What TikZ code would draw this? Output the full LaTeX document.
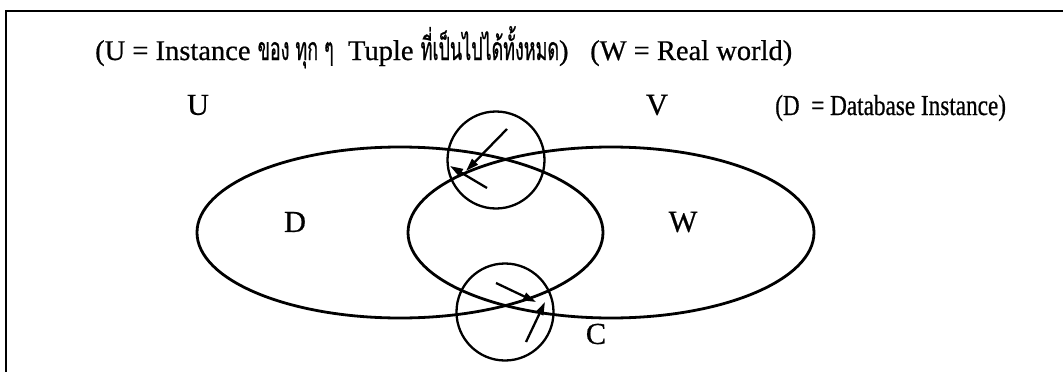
\documentclass[tikz,border=0pt]{standalone}
\usepackage{fontspec}
\setmainfont[FakeBold=0.6]{Liberation Serif}
\newfontfamily\hdrfont[FakeBold=0.6]{Liberation Serif}
\newfontfamily\narrowfont[FakeStretch=0.8,FakeBold=0.6]{Liberation Serif}
\newfontfamily\thaifont[Script=Thai,FakeStretch=0.56,FakeBold=0.6]{Loma}
\usetikzlibrary{shapes.geometric,arrows.meta}
\begin{document}
\begin{tikzpicture}[x=1pt,y=-1pt,
  hdr/.style={font=\hdrfont\fontsize{28.5}{32}\selectfont, inner sep=0pt},
  hdrn/.style={font=\narrowfont\fontsize{29}{32}\selectfont, inner sep=0pt},
  thai/.style={font=\thaifont\fontsize{32}{34}\selectfont},
  lbl/.style={font=\fontsize{30.5}{34}\selectfont, inner sep=0pt},
  set/.style={ellipse, draw, line width=2.8pt, minimum width=406pt, minimum height=171pt, inner sep=0pt},
  lens/.style={circle, draw, line width=2.3pt, minimum size=97pt, inner sep=0pt},
  ptr/.style={line width=2.3pt, -{Triangle[length=13pt,width=8pt]}}]
\useasboundingbox (0,0) rectangle (1063,372);
\draw[line width=2.5pt] (6,372) -- (6,11) -- (1063,11);
% header
\node[hdr, anchor=base west] (h1) at (95,60) {(U = Instance {\thaifont\fontsize{32}{34}\selectfont ของ ทุก ๆ}\ \ Tuple {\thaifont\fontsize{32}{34}\selectfont ที่เป็นไปได้ทั้งหมด})};
\node[hdr, anchor=base west] (h2) at (590,60) {(W = Real world)};
\node[lbl] (U) at (198,105) {U};
\node[lbl] (V) at (657,105) {V};
\node[hdrn, anchor=base west] (h3) at (775,115) {(D \ = Database Instance)};
% sets
\node[set] (Dset) at (400,232.5) {};
\node[set] (Wset) at (611,232.5) {};
\node[lbl] (D) at (295,222) {D};
\node[lbl] (W) at (683,222) {W};
\node[lbl] (C) at (596,334) {C};
% lenses
\node[lens] (top) at (496,160) {};
\node[lens] (bot) at (505,312) {};
% arrows
\coordinate (t1s) at (507,129);
\coordinate (t1e) at (466,171);
\coordinate (t2s) at (487,188);
\coordinate (t2e) at (450,166);
\coordinate (b1s) at (496,283);
\coordinate (b1e) at (536,302);
\coordinate (b2s) at (526,342);
\coordinate (b2e) at (545,302);
\draw[ptr] (t1s) -- (t1e);
\draw[ptr] (t2s) -- (t2e);
\draw[ptr] (b1s) -- (b1e);
\draw[ptr] (b2s) -- (b2e);
\end{tikzpicture}
\end{document}
